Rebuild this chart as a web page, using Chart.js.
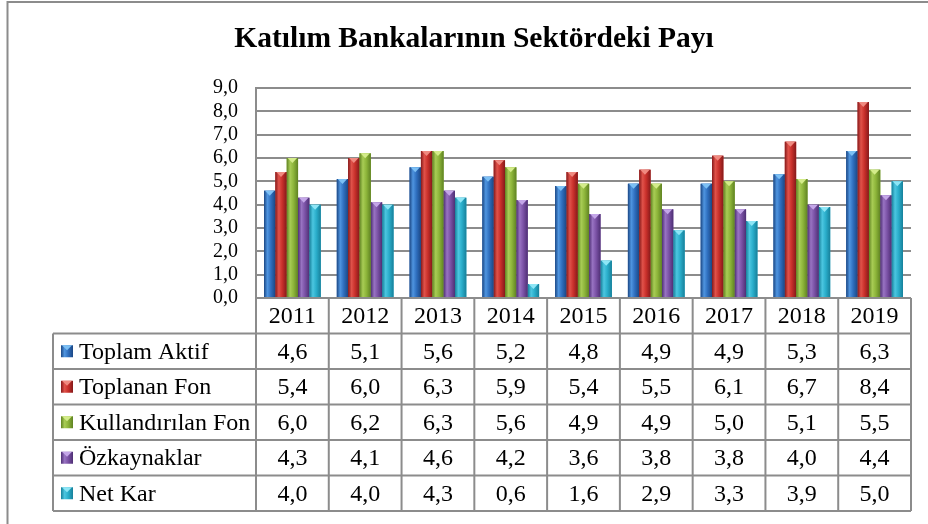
<!DOCTYPE html>
<html>
<head>
<meta charset="utf-8">
<style>
  html, body { margin: 0; padding: 0; background: #ffffff; }
  #wrap { width: 928px; height: 524px; position: relative; }
</style>
<script src="https://cdn.jsdelivr.net/npm/chart.js@4.4.1/dist/chart.umd.min.js"></script>
</head>
<body>
<div id="wrap"><canvas id="c" width="928" height="524"></canvas></div>
<script>
const titleText = 'Katılım Bankalarının Sektördeki Payı';
const categories = ['2011', '2012', '2013', '2014', '2015', '2016', '2017', '2018', '2019'];
const seriesNames = ['Toplam Aktif', 'Toplanan Fon', 'Kullandırılan Fon', 'Özkaynaklar', 'Net Kar'];
const toplamAktif      = [4.6, 5.1, 5.6, 5.2, 4.8, 4.9, 4.9, 5.3, 6.3];
const toplananFon      = [5.4, 6.0, 6.3, 5.9, 5.4, 5.5, 6.1, 6.7, 8.4];
const kullandirilanFon = [6.0, 6.2, 6.3, 5.6, 4.9, 4.9, 5.0, 5.1, 5.5];
const ozkaynaklar      = [4.3, 4.1, 4.6, 4.2, 3.6, 3.8, 3.8, 4.0, 4.4];
const netKar           = [4.0, 4.0, 4.3, 0.6, 1.6, 2.9, 3.3, 3.9, 5.0];
const yMin = 0, yMax = 9, yStep = 1;

// colours: [base, dark edge, light highlight, cap]
const palette = [
  ['#2f6fbf', '#1b4784', '#4f95e0', '#7cc0f5'],
  ['#c9302b', '#85191a', '#e0524a', '#f08a80'],
  ['#8db53a', '#5f8222', '#a8cc55', '#d4ec8a'],
  ['#7b52a6', '#4e2f74', '#9873c2', '#c4a6e8'],
  ['#2aaecb', '#17809a', '#4cc6e0', '#8ee6f6']
];
const allSeries = [toplamAktif, toplananFon, kullandirilanFon, ozkaynaklar, netKar];

const fmt = v => v.toFixed(1).replace('.', ',');
const SERIF = '"Liberation Serif", "Times New Roman", serif';

function barGradient(ctx, left, width, cols) {
  const g = ctx.createLinearGradient(left, 0, left + width, 0);
  g.addColorStop(0, cols[1]);
  g.addColorStop(0.3, cols[2]);
  g.addColorStop(0.6, cols[0]);
  g.addColorStop(1, cols[1]);
  return g;
}

const framePlugin = {
  id: 'frame',
  beforeDraw(chart) {
    const ctx = chart.ctx;
    ctx.save();
    ctx.fillStyle = '#ffffff';
    ctx.fillRect(0, 0, chart.width, chart.height);
    ctx.strokeStyle = '#8c8c8c';
    ctx.lineWidth = 2;
    ctx.beginPath();
    ctx.moveTo(7.5, chart.height + 5);
    ctx.lineTo(7.5, 2);
    ctx.lineTo(chart.width + 5, 2);
    ctx.stroke();
    // title
    ctx.fillStyle = '#000000';
    ctx.font = 'bold 29.5px ' + SERIF;
    ctx.textAlign = 'center';
    ctx.textBaseline = 'alphabetic';
    ctx.fillText(titleText, 474, 47);
    ctx.restore();
  }
};

const barStylePlugin = {
  id: 'barStyle',
  afterDatasetsDraw(chart) {
    const ctx = chart.ctx;
    ctx.save();
    chart.data.datasets.forEach((ds, di) => {
      const meta = chart.getDatasetMeta(di);
      const cols = palette[di];
      meta.data.forEach(el => {
        const p = el.getProps(['x', 'y', 'base', 'width'], true);
        const left = p.x - p.width / 2;
        const top = Math.min(p.y, p.base);
        const h = Math.abs(p.base - p.y);
        ctx.fillStyle = barGradient(ctx, left, p.width, cols);
        ctx.fillRect(left, top, p.width, h);
        // bevel cap
        const capH = Math.min(5, h);
        ctx.fillStyle = cols[3];
        ctx.beginPath();
        ctx.moveTo(left + 1, top);
        ctx.lineTo(left + p.width - 1, top);
        ctx.lineTo(p.x, top + capH);
        ctx.closePath();
        ctx.fill();
      });
    });
    ctx.restore();
  }
};

const tablePlugin = {
  id: 'dataTable',
  afterDraw(chart) {
    const ctx = chart.ctx;
    const area = chart.chartArea;
    const xs = chart.scales.x;
    const n = categories.length;
    const colW = (area.right - area.left) / n;
    const rowH = 35.5;
    const tableLeft = 53;
    const headTop = area.bottom;
    const bodyTop = headTop + rowH;
    const bodyBottom = bodyTop + rowH * seriesNames.length;
    ctx.save();
    ctx.strokeStyle = '#8c8c8c';
    ctx.lineWidth = 2;
    ctx.beginPath();
    ctx.moveTo(area.left, headTop); ctx.lineTo(area.right, headTop);
    for (let r = 0; r <= seriesNames.length; r++) {
      const y = bodyTop + r * rowH;
      ctx.moveTo(tableLeft, y); ctx.lineTo(area.right, y);
    }
    for (let i = 0; i <= n; i++) {
      const x = area.left + i * colW;
      ctx.moveTo(x, headTop); ctx.lineTo(x, bodyBottom);
    }
    ctx.moveTo(tableLeft, bodyTop); ctx.lineTo(tableLeft, bodyBottom);
    ctx.stroke();

    ctx.fillStyle = '#000000';
    ctx.font = '24px ' + SERIF;
    ctx.textBaseline = 'middle';
    ctx.textAlign = 'center';
    categories.forEach((c, i) => {
      ctx.fillText(c, xs.getPixelForValue(i), headTop + rowH / 2 + 1);
    });
    seriesNames.forEach((name, r) => {
      const cy = bodyTop + r * rowH + rowH / 2 + 1;
      const cols = palette[r];
      const ms = 12, mx = 61, my = cy - ms / 2 - 1;
      ctx.fillStyle = barGradient(ctx, mx, ms, cols);
      ctx.fillRect(mx, my, ms, ms);
      ctx.fillStyle = cols[3];
      ctx.beginPath();
      ctx.moveTo(mx + 1, my); ctx.lineTo(mx + ms - 1, my); ctx.lineTo(mx + ms / 2, my + 5);
      ctx.closePath(); ctx.fill();
      ctx.fillStyle = '#000000';
      ctx.textAlign = 'left';
      ctx.fillText(name, 79, cy);
      ctx.textAlign = 'center';
      allSeries[r].forEach((v, i) => {
        ctx.fillText(fmt(v), xs.getPixelForValue(i), cy);
      });
    });
    ctx.restore();
  }
};

new Chart(document.getElementById('c'), {
  type: 'bar',
  data: {
    labels: categories,
    datasets: seriesNames.map((name, i) => ({
      label: name,
      data: allSeries[i],
      backgroundColor: palette[i][0],
      borderWidth: 0,
      categoryPercentage: 0.78,
      barPercentage: 1.0
    }))
  },
  options: {
    responsive: false,
    animation: false,
    devicePixelRatio: 1,
    layout: { padding: { top: 88, right: 17, left: 0, bottom: 0 } },
    plugins: {
      legend: { display: false },
      title: { display: false },
      tooltip: { enabled: false }
    },
    scales: {
      x: {
        grid: { display: false },
        border: { display: false },
        ticks: { display: false },
        afterFit(scale) { scale.height = 524 - 298; }
      },
      y: {
        min: yMin, max: yMax,
        ticks: {
          stepSize: yStep,
          autoSkip: false,
          padding: 18,
          color: '#000000',
          font: { family: SERIF, size: 20 },
          callback: v => fmt(v)
        },
        grid: { color: '#8c8c8c', lineWidth: 2, drawTicks: false },
        border: { display: true, color: '#8c8c8c', width: 2 },
        afterFit(scale) { scale.width = 256; }
      }
    }
  },
  plugins: [framePlugin, barStylePlugin, tablePlugin]
});
</script>
</body>
</html>
